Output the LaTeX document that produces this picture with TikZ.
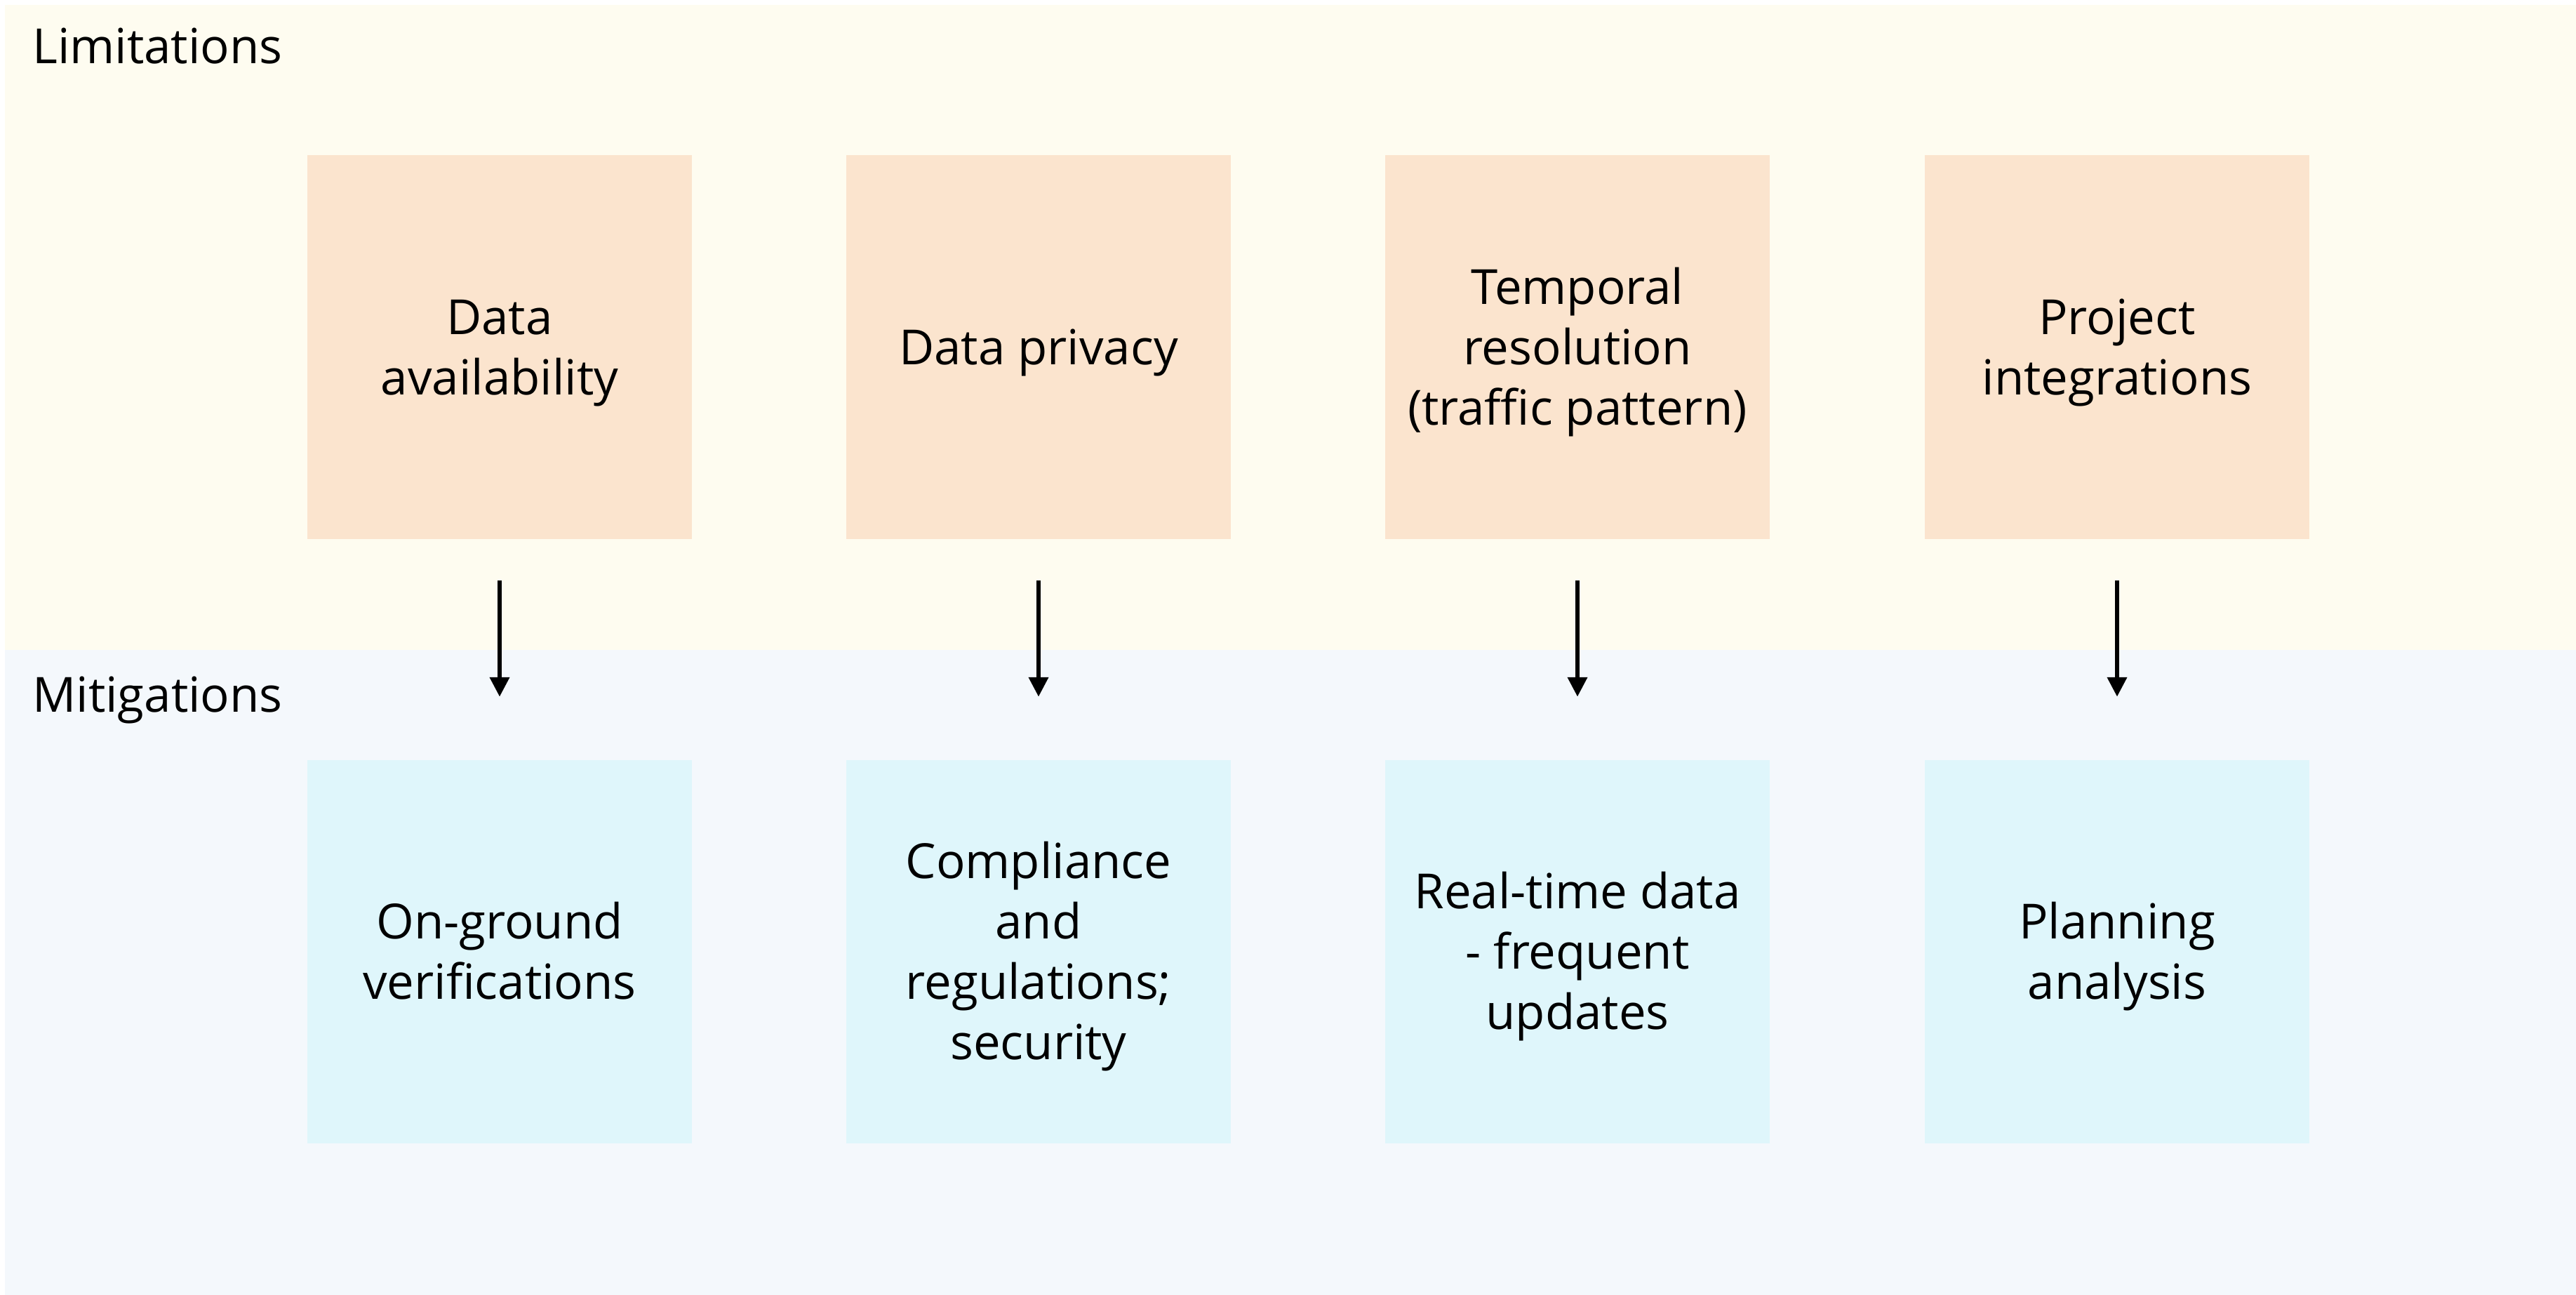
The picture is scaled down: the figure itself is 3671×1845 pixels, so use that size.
\documentclass[tikz,border=0pt]{standalone}
\usepackage{fontspec}
\setmainfont{Open Sans}
\usetikzlibrary{arrows.meta}
\definecolor{limband}{HTML}{FEFCF0}
\definecolor{mitband}{HTML}{F4F8FC}
\definecolor{limbox}{HTML}{FBE4CE}
\definecolor{mitbox}{HTML}{DFF6FB}
\newcommand{\ls}{\rule[-10.45pt]{0pt}{48.94pt}}
\tikzset{
  txt/.style={font=\fontsize{39.26pt}{48.94pt}\selectfont, text=black},
  limcard/.style={txt, fill=limbox, draw=none, minimum width=10.96cm, minimum height=10.94cm, inner sep=0pt, align=center},
  mitcard/.style={txt, fill=mitbox, draw=none, minimum width=10.96cm, minimum height=10.92cm, inner sep=0pt, align=center},
  bandlabel/.style={txt, anchor=base west, inner sep=0pt},
  flow/.style={line width=3.7pt, -{Triangle[length=15.9pt, width=15.4pt]}, shorten <=33.6pt, shorten >=51.2pt}
}
\begin{document}
\begin{tikzpicture}[x=0.02cm, y=-0.02cm]
\useasboundingbox (0,0) rectangle (3671,1845);
\fill[white] (0,0) rectangle (3671,1845);
\fill[limband] (7,7) rectangle (3671,926);
\fill[mitband] (7,926) rectangle (3671,1845);
\node[bandlabel] (limlabel) at (46,91) {Limitations};
\node[bandlabel] (mitlabel) at (46,1014) {Mitigations};
\node[limcard] (l1) at (712,494.5) {\ls Data\\\ls availability};
\node[limcard] (l2) at (1480,494.5) {\ls Data privacy};
\node[limcard] (l3) at (2248,494.5) {\ls Temporal\\\ls resolution\\\ls (traffic pattern)};
\node[limcard] (l4) at (3017,494.5) {\ls Project\\\ls integrations};
\node[mitcard] (m1) at (712,1356) {\ls On-ground\\\ls verifications};
\node[mitcard] (m2) at (1480,1356) {\ls Compliance\\\ls and\\\ls regulations;\\\ls security};
\node[mitcard] (m3) at (2248,1356) {\ls Real-time data\\\ls - frequent\\\ls updates};
\node[mitcard] (m4) at (3017,1356) {\ls Planning\\\ls analysis};
\foreach \i in {1,2,3,4}{
  \draw[flow] (l\i) -- (m\i);
}
\end{tikzpicture}
\end{document}
